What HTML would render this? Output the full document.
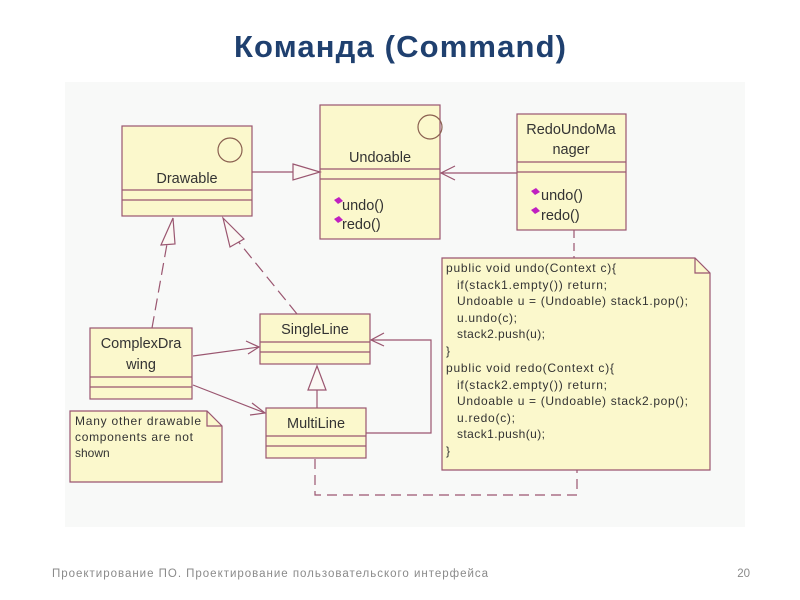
<!DOCTYPE html>
<html><head><meta charset="utf-8"><style>
body{margin:0;width:800px;height:600px;background:#fff;overflow:hidden}
svg{display:block}
</style></head><body>
<svg width="800" height="600" xmlns="http://www.w3.org/2000/svg" font-family="Liberation Sans, DejaVu Sans, sans-serif">
<rect x="65" y="82" width="680" height="445" fill="#f8f9f8"/>
<text x="400" y="57" text-anchor="middle" font-size="31" font-weight="bold" fill="#1f406f" textLength="332">Команда (Command)</text>
<text x="52" y="577" font-size="11.5" fill="#8a8a8a" textLength="436">Проектирование ПО. Проектирование пользовательского интерфейса</text>
<text x="750" y="577" font-size="11.5" fill="#8a8a8a" text-anchor="end">20</text>
<g stroke="#9a5670" stroke-width="1.2" fill="#fbf8cc">
<rect x="122" y="126" width="130" height="90"/>
<line x1="122" y1="190" x2="252" y2="190"/><line x1="122" y1="200" x2="252" y2="200"/>
<circle cx="230" cy="150" r="12" fill="none" stroke="#8a6050"/>
<rect x="320" y="105" width="120" height="134"/>
<line x1="320" y1="169" x2="440" y2="169"/><line x1="320" y1="179" x2="440" y2="179"/>
<circle cx="430" cy="127" r="12" fill="none" stroke="#8a6050"/>
<rect x="517" y="114" width="109" height="116"/>
<line x1="517" y1="162" x2="626" y2="162"/><line x1="517" y1="172" x2="626" y2="172"/>
<path d="M442 258 H695 L710 273 V470 H442 Z"/>
<path d="M695 258 V273 H710" fill="none"/>
<rect x="90" y="328" width="102" height="71"/>
<line x1="90" y1="377" x2="192" y2="377"/><line x1="90" y1="387" x2="192" y2="387"/>
<rect x="260" y="314" width="110" height="50"/>
<line x1="260" y1="342" x2="370" y2="342"/><line x1="260" y1="352" x2="370" y2="352"/>
<rect x="266" y="408" width="100" height="50"/>
<line x1="266" y1="436" x2="366" y2="436"/><line x1="266" y1="446" x2="366" y2="446"/>
<path d="M70 411 H207 L222 426 V482 H70 Z"/>
<path d="M207 411 V426 H222" fill="none"/>
</g>
<g stroke="#9a5670" stroke-width="1.2" fill="none">
<line x1="252" y1="172" x2="293" y2="172"/>
<path d="M293 164 L320 172 L293 180 Z" fill="#fbf8f4"/>
<line x1="517" y1="173" x2="441" y2="173"/>
<path d="M455 166 L441 173 L455 180"/>
<line x1="574" y1="230" x2="574" y2="258" stroke-dasharray="8,5"/>
<line x1="152" y1="328" x2="167" y2="244" stroke-dasharray="12,6"/>
<path d="M161 245 L175 244 L173 218 Z" fill="#fbf8f4"/>
<line x1="297" y1="314" x2="237" y2="240" stroke-dasharray="12,6"/>
<path d="M230 247 L244 239 L223 218 Z" fill="#fbf8f4"/>
<line x1="193" y1="356" x2="259" y2="347"/>
<path d="M246 341 L259 347 L248 354"/>
<line x1="193" y1="385" x2="265" y2="413"/>
<path d="M252 403 L265 413 L250 415"/>
<line x1="317" y1="408" x2="317" y2="390"/>
<path d="M308 390 L317 366 L326 390 Z" fill="#fbf8f4"/>
<path d="M366 433 H431 V340 H371"/>
<path d="M384 333 L371 340 L384 346"/>
<path d="M315 459 V495 H577 V470" stroke-dasharray="10,6"/>
</g>
<g font-size="14.5" fill="#333">
<text x="187" y="183" text-anchor="middle">Drawable</text>
<text x="380" y="162" text-anchor="middle">Undoable</text>
<text x="571" y="134" text-anchor="middle">RedoUndoMa</text>
<text x="571" y="154" text-anchor="middle">nager</text>
<text x="141" y="348" text-anchor="middle">ComplexDra</text>
<text x="141" y="369" text-anchor="middle">wing</text>
<text x="315" y="334" text-anchor="middle">SingleLine</text>
<text x="316" y="428" text-anchor="middle">MultiLine</text>
<text x="342" y="210">undo()</text>
<text x="342" y="229">redo()</text>
<text x="541" y="200">undo()</text>
<text x="541" y="220">redo()</text>
</g>
<g fill="#c020c0">
<path d="M334 200 l5 -3 l4 4 l-5 3 z"/><path d="M334 219 l5 -3 l4 4 l-5 3 z"/>
<path d="M531 191 l5 -3 l4 4 l-5 3 z"/><path d="M531 210 l5 -3 l4 4 l-5 3 z"/>
</g>
<g font-size="12" fill="#333">
<text x="446" y="272" textLength="170">public void undo(Context c){</text>
<text x="457" y="289" textLength="150">if(stack1.empty()) return;</text>
<text x="457" y="305" textLength="231">Undoable u = (Undoable) stack1.pop();</text>
<text x="457" y="322" textLength="60">u.undo(c);</text>
<text x="457" y="338" textLength="88">stack2.push(u);</text>
<text x="446" y="355">}</text>
<text x="446" y="372" textLength="168">public void redo(Context c){</text>
<text x="457" y="389" textLength="150">if(stack2.empty()) return;</text>
<text x="457" y="405" textLength="231">Undoable u = (Undoable) stack2.pop();</text>
<text x="457" y="422" textLength="58">u.redo(c);</text>
<text x="457" y="438" textLength="88">stack1.push(u);</text>
<text x="446" y="455">}</text>
</g>
<g font-size="12" fill="#333">
<text x="75" y="425" textLength="126">Many other drawable</text>
<text x="75" y="441" textLength="118">components are not</text>
<text x="75" y="457">shown</text>
</g>
</svg>
</body></html>
